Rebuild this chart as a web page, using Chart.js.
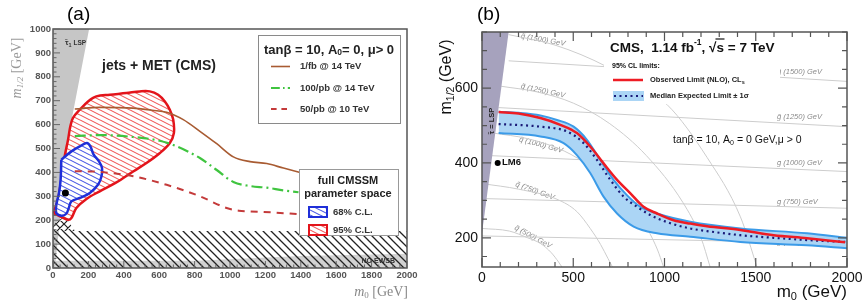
<!DOCTYPE html>
<html><head><meta charset="utf-8">
<script src="https://cdn.jsdelivr.net/npm/chart.js@4.4.1/dist/chart.umd.min.js"></script>
<style>
html,body{margin:0;padding:0;background:#fff;}
#wrap{position:relative;width:866px;height:305px;overflow:hidden;background:#fff;}
.pane{position:absolute;top:0;width:433px;height:305px;}
</style></head><body>
<div id="wrap">
<div class="pane" style="left:0"><canvas id="ca" width="433" height="305"></canvas></div>
<div class="pane" style="left:433px"><canvas id="cb" width="433" height="305"></canvas></div>
</div>
<script>
// ---------------- Panel (a) data ----------------
const aXTicks = [0,200,400,600,800,1000,1200,1400,1600,1800,2000];
const aYTicks = [0,100,200,300,400,500,600,700,800,900,1000];
const aLspX = [0, 10, 100, 204, 0];
const aLspY = [0, 0, 600, 1000, 1000];
const aNoEwsbX = [0, 2000, 2000, 1400, 800, 0];
const aNoEwsbY = [0, 0, 60, 50, 30, 30];
const aLepX = [0, 2000, 2000, 0];
const aLepY = [0, 0, 155, 155];
const aXhX = [0, 0, 65, 125];
const aXhY = [155, 180, 218, 155];
const cl95X = [4,85,104,132,189,264,358,453,528,604,660,683,679,660,632,594,547,491,415,321,245,198,151,113,98,85,66,47,28,9,4];
const cl95Y = [230,202,209,251,289,321,358,404,439,481,523,565,621,662,697,725,739,739,732,725,718,697,662,628,593,537,467,370,286,244,230];
const cl68X = [47,104,151,192,211,230,260,277,274,255,208,151,104,89,75,47,19,19,34,43,47];
const cl68Y = [453,488,509,523,509,474,446,418,384,349,314,293,279,251,227,219,230,265,314,370,453];
const fb1X = [123,264,453,560,642,736,830,925,1019,1113,1208,1302,1396];
const fb1Y = [665,672,669,660,652,621,572,520,465,445,437,418,400];
const pb100X = [123,264,453,585,679,830,925,1019,1113,1208,1300,1387];
const pb100Y = [552,556,548,535,515,460,410,360,343,336,325,317];
const pb50X = [123,264,453,642,830,981,1050,1113,1250,1387];
const pb50Y = [405,402,384,348,300,251,240,237,232,225];
const bestX = [70];
const bestY = [314];

// ---------------- Panel (b) data ----------------
const bXTicks = [0,500,1000,1500,2000];
const bYTicks = [200,400,600];
const obsX = [91,200,320,429,520,593,666,740,813,885,959,1050,1141,1233,1416,1598,1781,1990];
const obsY = [536,532,520,502,480,444,399,355,319,283,265,247,238,231,221,207,199,188];
const expX = [91,320,466,557,630,703,776,849,922,1032,1141,1233,1416,1598,1781,1990];
const expY = [504,497,484,453,408,355,310,283,261,239,225,218,207,200,194,189];
const bandUpX = [91,200,320,411,502,575,648,721,794,867,959,1141,1416,1781,2000];
const bandUpY = [537,534,527,515,497,462,408,355,314,283,265,243,225,212,200];
const bandLoX = [91,320,447,520,593,666,740,831,959,1141,1416,1781,2000];
const bandLoY = [480,471,453,421,373,310,265,230,212,203,189,180,172];
const lspBX = [0, 146, 0];
const lspBY = [212, 750, 750];
const lm6X = [86];
const lm6Y = [400];
const sq500X = [0,150,250,320,380,420,438];
const sq500Y = [225,218,200,185,160,135,122];
const sq750X = [0,200,411,520,593,650,690,715];
const sq750Y = [345,330,303,270,225,182,145,122];
const sq1000X = [60,250,450,600,750,880,960,995];
const sq1000Y = [480,465,432,388,325,245,170,122];
const sq1250X = [105,300,500,700,900,1100,1200,1250];
const sq1250Y = [605,590,560,505,420,295,200,122];
const sq1500X = [146,400,685,1014,1233,1416,1507];
const sq1500Y = [743,715,657,556,415,256,122];
const gl500X = [0,2000];   const gl500Y = [205,185];
const gl750X = [0,2000];   const gl750Y = [305,279];
const gl1000X = [30,2000]; const gl1000Y = [420,377];
const gl1250X = [90,2000]; const gl1250Y = [548,497];
const gl1500X = [146,2000];const gl1500Y = [673,618];

// ---------------- helpers ----------------
const SANS = "'Liberation Sans', Arial, sans-serif";
const SERIF = "'Liberation Serif', 'DejaVu Serif', serif";
function P(xs, ys){ return xs.map((x,i)=>({x:x, y:ys[i]})); }
function rich(ctx, x, y, parts, align){
  let w = 0;
  for (const p of parts){ ctx.font = p[1]; w += ctx.measureText(p[0]).width; }
  let cx = align==='center' ? x - w/2 : (align==='right' ? x - w : x);
  ctx.textAlign = 'left'; ctx.textBaseline = 'middle';
  for (const p of parts){ ctx.font = p[1]; ctx.fillText(p[0], cx, y + (p[2]||0)); cx += ctx.measureText(p[0]).width; }
  return w;
}
function makePattern(ctx, w, h, color, lw, bg, cross){
  const c = document.createElement('canvas'); c.width = w; c.height = h;
  const g = c.getContext('2d');
  if (bg){ g.fillStyle = bg; g.fillRect(0,0,w,h); }
  g.strokeStyle = color; g.lineWidth = lw; g.beginPath();
  for (let k=-1;k<=1;k++){
    g.moveTo(-w + k*w, -h); g.lineTo(2*w + k*w, 2*h);
    if (cross){ g.moveTo(k*w - w, 2*h); g.lineTo(k*w + 2*w, -h); }
  }
  g.stroke();
  return ctx.createPattern(c, 'repeat');
}
const plainNum = v => String(v);

// ---------------- Chart (a) ----------------
const ctxA = document.getElementById('ca').getContext('2d');
const patRed = makePattern(ctxA, 10, 5, '#f05a5a', 1.1, '#ffffff', false);
const patBlue = makePattern(ctxA, 10, 5, '#4a58e4', 1.1, '#ffffff', false);
const patBlack = makePattern(ctxA, 8, 8, '#222222', 1.3, null, false);
const patCross = makePattern(ctxA, 8, 8, '#222222', 1.2, '#ffffff', true);

const plugA = {
  id: 'plugA',
  afterDatasetsDraw(chart){
    const {ctx, chartArea: ca, scales: {x, y}} = chart;
    ctx.save();
    ctx.strokeStyle = '#555'; ctx.lineWidth = 1.5;
    ctx.strokeRect(ca.left, ca.top, ca.right - ca.left, ca.bottom - ca.top);
    ctx.lineWidth = 1; ctx.strokeStyle = '#666';
    ctx.beginPath();
    for (let v = 0; v <= 1000; v += 20){
      const py = y.getPixelForValue(v); const len = v % 100 === 0 ? 7 : 3.5;
      ctx.moveTo(ca.left, py); ctx.lineTo(ca.left + len, py);
    }
    for (let v = 0; v <= 2000; v += 40){
      const px = x.getPixelForValue(v); const len = v % 200 === 0 ? 7 : 3.5;
      ctx.moveTo(px, ca.bottom); ctx.lineTo(px, ca.bottom - len);
    }
    ctx.stroke();
    ctx.fillStyle = '#222';
    rich(ctx, 159, 66, [['jets + MET (CMS)', 'bold 14px ' + SANS]], 'center');
    ctx.fillStyle = '#333';
    rich(ctx, 65, 43, [['τ\u0303', 'bold 8px ' + SANS], ['1', 'bold 5.5px ' + SANS, 2], [' LSP', 'bold 6.5px ' + SANS]], 'left');
    rich(ctx, 395, 261, [['NO EWSB', 'bold 7px ' + SANS]], 'right');
    // legend 1
    ctx.fillStyle = '#fff'; ctx.fillRect(258, 35, 142, 88);
    ctx.strokeStyle = '#8a8a8a'; ctx.lineWidth = 1; ctx.strokeRect(258.5, 35.5, 142, 88);
    ctx.fillStyle = '#222';
    rich(ctx, 264, 50, [['tanβ = 10, A', 'bold 13px ' + SANS], ['0', 'bold 8.5px ' + SANS, 3], ['= 0, μ> 0', 'bold 13px ' + SANS]], 'left');
    const ds = chart.data.datasets;
    const items = [[6, '1/fb @ 14 TeV', 66.5], [7, '100/pb @ 14 TeV', 88], [8, '50/pb @ 10 TeV', 109]];
    for (const it of items){
      const d = ds[it[0]];
      ctx.strokeStyle = d.borderColor; ctx.lineWidth = d.borderWidth;
      ctx.setLineDash(d.borderDash ? d.borderDash.map(v=>v*0.8) : []);
      ctx.beginPath(); ctx.moveTo(271, it[2]); ctx.lineTo(290, it[2]); ctx.stroke();
      ctx.setLineDash([]);
      ctx.fillStyle = '#333';
      rich(ctx, 300, it[2], [[it[1], 'bold 9.5px ' + SANS]], 'left');
    }
    // legend 2
    ctx.fillStyle = '#fff'; ctx.fillRect(299, 169, 99, 66);
    ctx.strokeStyle = '#999'; ctx.lineWidth = 1; ctx.strokeRect(299.5, 169.5, 99, 66);
    ctx.fillStyle = '#222';
    rich(ctx, 348, 181, [['full CMSSM', 'bold 11px ' + SANS]], 'center');
    rich(ctx, 348, 194, [['parameter space', 'bold 11px ' + SANS]], 'center');
    ctx.fillStyle = patBlue; ctx.fillRect(309, 207, 18, 10);
    ctx.strokeStyle = ds[5].borderColor; ctx.lineWidth = 2; ctx.strokeRect(309, 207, 18, 10);
    ctx.fillStyle = patRed; ctx.fillRect(309, 225, 18, 10);
    ctx.strokeStyle = ds[4].borderColor; ctx.lineWidth = 2; ctx.strokeRect(309, 225, 18, 10);
    ctx.fillStyle = '#333';
    rich(ctx, 333, 212, [['68% C.L.', 'bold 9.5px ' + SANS]], 'left');
    rich(ctx, 333, 230, [['95% C.L.', 'bold 9.5px ' + SANS]], 'left');
    // axis titles
    ctx.fillStyle = '#999';
    ctx.save(); ctx.translate(17, 68); ctx.rotate(-Math.PI/2);
    rich(ctx, 0, 0, [['m', 'italic 14px ' + SERIF], ['1/2', 'italic 9px ' + SERIF, 4], [' [GeV]', '14px ' + SERIF]], 'center');
    ctx.restore();
    ctx.fillStyle = '#888';
    rich(ctx, 408, 292, [['m', 'italic 14px ' + SERIF], ['0', '9px ' + SERIF, 4], [' [GeV]', '14px ' + SERIF]], 'right');
    ctx.fillStyle = '#000';
    rich(ctx, 67, 15, [['(a)', '19px ' + SANS]], 'left');
    ctx.restore();
  }
};

new Chart(ctxA, {
  type: 'line',
  data: { datasets: [
    {data: P(aLspX, aLspY), fill: 'shape', backgroundColor: '#c6c6c6', borderColor: 'transparent', borderWidth: 0, order: 10},
    {data: P(aNoEwsbX, aNoEwsbY), fill: 'shape', backgroundColor: '#d2d2d2', borderColor: 'transparent', borderWidth: 0, order: 10},
    {data: P(aLepX, aLepY), fill: 'shape', backgroundColor: patBlack, borderColor: 'transparent', borderWidth: 0, order: 9},
    {data: P(aXhX, aXhY), fill: 'shape', backgroundColor: patCross, borderColor: 'transparent', borderWidth: 0, order: 9},
    {data: P(cl95X, cl95Y), fill: 'shape', backgroundColor: patRed, borderColor: '#e3141b', borderWidth: 2.5, tension: 0.35, order: 8},
    {data: P(cl68X, cl68Y), fill: 'shape', backgroundColor: patBlue, borderColor: '#1f2fd8', borderWidth: 2.5, tension: 0.35, order: 7},
    {data: P(fb1X, fb1Y), fill: false, borderColor: '#a85b32', borderWidth: 1.6, cubicInterpolationMode: 'monotone', order: 5},
    {data: P(pb100X, pb100Y), fill: false, borderColor: '#3fc43f', borderWidth: 2.2, borderDash: [11,4,2,4], cubicInterpolationMode: 'monotone', order: 5},
    {data: P(pb50X, pb50Y), fill: false, borderColor: '#c43a3a', borderWidth: 2, borderDash: [7,6], cubicInterpolationMode: 'monotone', order: 5},
    {data: P(bestX, bestY), showLine: false, pointRadius: 3.5, pointBackgroundColor: '#000', pointBorderWidth: 0, order: 1}
  ]},
  options: {
    responsive: false, animation: false, events: [],
    layout: {padding: {left: 0, right: 26, top: 29, bottom: 17}},
    plugins: {legend: {display: false}, tooltip: {enabled: false}},
    elements: {point: {radius: 0}},
    scales: {
      x: {type: 'linear', min: 0, max: 2000,
          grid: {display: false, drawTicks: false}, border: {display: false},
          ticks: {font: {family: SANS, size: 9.5, weight: 'bold'}, color: '#555', padding: 2, maxRotation: 0, autoSkip: false, callback: plainNum},
          afterBuildTicks: s => { s.ticks = aXTicks.map(v => ({value: v})); },
          afterFit: s => { s.height = 20; }},
      y: {type: 'linear', min: 0, max: 1000,
          grid: {display: false, drawTicks: false}, border: {display: false},
          ticks: {font: {family: SANS, size: 9.5, weight: 'bold'}, color: '#555', padding: 2, autoSkip: false, callback: plainNum},
          afterBuildTicks: s => { s.ticks = aYTicks.map(v => ({value: v})); },
          afterFit: s => { s.width = 53; }}
    }
  },
  plugins: [plugA]
});

// ---------------- Chart (b) ----------------
const ctxB = document.getElementById('cb').getContext('2d');
const gluLabels = [['1500', 71.7], ['1250', 116.7], ['1000', 163.3], ['750', 202.3], ['500', 242.3]];
const sqLabels = [['1500', 110, 40, 10], ['1250', 110, 91, 12], ['1000', 108, 145, 15], ['750', 102, 191, 20], ['500', 100, 237, 28]];

const plugB = {
  id: 'plugB',
  beforeDatasetsDraw(chart){
    const ctx = chart.ctx;
    ctx.save();
    ctx.fillStyle = '#8c8c8c';
    for (const g of gluLabels){
      rich(ctx, 344, g[1], [['g\u0303 (' + g[0] + ') GeV', 'italic 7.5px ' + SANS]], 'left');
    }
    for (const q of sqLabels){
      ctx.save(); ctx.translate(q[1], q[2]); ctx.rotate(q[3] * Math.PI / 180);
      rich(ctx, 0, 0, [['q\u0303 (' + q[0] + ') GeV', 'italic 7.5px ' + SANS]], 'center');
      ctx.restore();
    }
    ctx.restore();
  },
  afterDatasetsDraw(chart){
    const {ctx, chartArea: ca, scales: {x, y}} = chart;
    ctx.save();
    ctx.fillStyle = '#fff'; ctx.fillRect(171, 35, 176, 69);
    ctx.strokeStyle = '#555'; ctx.lineWidth = 1.5;
    ctx.strokeRect(ca.left, ca.top, ca.right - ca.left, ca.bottom - ca.top);
    ctx.lineWidth = 1.2; ctx.strokeStyle = '#555';
    ctx.beginPath();
    for (let v = 0; v <= 2000; v += 100){
      const px = x.getPixelForValue(v); const len = v % 500 === 0 ? 9 : 5;
      ctx.moveTo(px, ca.bottom); ctx.lineTo(px, ca.bottom - len);
      ctx.moveTo(px, ca.top); ctx.lineTo(px, ca.top + len);
    }
    for (let v = 150; v <= 750; v += 50){
      const py = y.getPixelForValue(v); const len = v % 200 === 0 ? 9 : 5;
      ctx.moveTo(ca.left, py); ctx.lineTo(ca.left + len, py);
      ctx.moveTo(ca.right, py); ctx.lineTo(ca.right - len, py);
    }
    ctx.stroke();
    ctx.fillStyle = '#111';
    const w1 = rich(ctx, 177, 48, [['CMS,  1.14 fb', 'bold 13.5px ' + SANS], ['-1', 'bold 8.5px ' + SANS, -5], [', ', 'bold 13.5px ' + SANS]], 'left');
    ctx.font = 'bold 13.5px ' + SANS;
    const sx = 177 + w1;
    const wr = ctx.measureText('√').width;
    rich(ctx, sx, 48, [['√', 'bold 13.5px ' + SANS]], 'left');
    const ws = rich(ctx, sx + wr, 48, [['s', 'bold 13.5px ' + SANS]], 'left');
    ctx.strokeStyle = '#111'; ctx.lineWidth = 1.2;
    ctx.beginPath(); ctx.moveTo(sx + wr - 1, 39); ctx.lineTo(sx + wr + ws + 0.5, 39); ctx.stroke();
    rich(ctx, sx + wr + ws, 48, [[' = 7 TeV', 'bold 13.5px ' + SANS]], 'left');
    rich(ctx, 179, 66, [['95% CL limits:', 'bold 7px ' + SANS]], 'left');
    const ds = chart.data.datasets;
    const dObs = ds[ds.length - 2], dExp = ds[ds.length - 3], dUp = ds[ds.length - 5];
    ctx.strokeStyle = dObs.borderColor; ctx.lineWidth = dObs.borderWidth;
    ctx.beginPath(); ctx.moveTo(180, 80); ctx.lineTo(210, 80); ctx.stroke();
    ctx.fillStyle = dUp.backgroundColor; ctx.fillRect(180, 91, 31, 10);
    ctx.strokeStyle = dExp.borderColor; ctx.lineWidth = dExp.borderWidth; ctx.setLineDash(dExp.borderDash);
    ctx.beginPath(); ctx.moveTo(181, 96); ctx.lineTo(210, 96); ctx.stroke(); ctx.setLineDash([]);
    ctx.fillStyle = '#222';
    rich(ctx, 217, 80, [['Observed Limit (NLO), CL', 'bold 7.5px ' + SANS], ['s', 'bold 5.5px ' + SANS, 2.5]], 'left');
    rich(ctx, 217, 96, [['Median Expected Limit ± 1σ', 'bold 7.5px ' + SANS]], 'left');
    ctx.fillStyle = '#111';
    rich(ctx, 240, 140, [['tanβ = 10, A', '10.5px ' + SANS], ['0', '7px ' + SANS, 3], [' = 0 GeV,μ > 0', '10.5px ' + SANS]], 'left');
    rich(ctx, 69, 162, [['LM6', 'bold 9.5px ' + SANS]], 'left');
    ctx.save(); ctx.translate(58.5, 121); ctx.rotate(-Math.PI/2);
    ctx.fillStyle = '#222';
    rich(ctx, 0, 0, [['τ\u0303 = LSP', 'bold 7.5px ' + SANS]], 'center');
    ctx.restore();
    ctx.fillStyle = '#111';
    ctx.save(); ctx.translate(14, 77); ctx.rotate(-Math.PI/2);
    rich(ctx, 0, 0, [['m', '16px ' + SANS], ['1/2', '10.5px ' + SANS, 4], [' (GeV)', '16px ' + SANS]], 'center');
    ctx.restore();
    rich(ctx, 414, 292, [['m', '17px ' + SANS], ['0', '11px ' + SANS, 5], [' (GeV)', '17px ' + SANS]], 'right');
    ctx.fillStyle = '#000';
    rich(ctx, 44, 15, [['(b)', '19px ' + SANS]], 'left');
    ctx.restore();
  }
};

const isoStyle = {fill: false, borderColor: '#cdcdcd', borderWidth: 1, cubicInterpolationMode: 'monotone', order: 10};
new Chart(ctxB, {
  type: 'line',
  data: { datasets: [
    Object.assign({data: P(sq500X, sq500Y)}, isoStyle),
    Object.assign({data: P(sq750X, sq750Y)}, isoStyle),
    Object.assign({data: P(sq1000X, sq1000Y)}, isoStyle),
    Object.assign({data: P(sq1250X, sq1250Y)}, isoStyle),
    Object.assign({data: P(sq1500X, sq1500Y)}, isoStyle),
    Object.assign({data: P(gl500X, gl500Y)}, isoStyle),
    Object.assign({data: P(gl750X, gl750Y)}, isoStyle),
    Object.assign({data: P(gl1000X, gl1000Y)}, isoStyle),
    Object.assign({data: P(gl1250X, gl1250Y)}, isoStyle),
    Object.assign({data: P(gl1500X, gl1500Y)}, isoStyle),
    {data: P(lspBX, lspBY), fill: 'shape', backgroundColor: '#a6a2bd', borderColor: 'transparent', borderWidth: 0, order: 9},
    {data: P(bandUpX, bandUpY), fill: '+1', backgroundColor: '#abd5f5', borderColor: '#3b9be8', borderWidth: 2, cubicInterpolationMode: 'monotone', order: 6},
    {data: P(bandLoX, bandLoY), fill: false, borderColor: '#3b9be8', borderWidth: 2, cubicInterpolationMode: 'monotone', order: 5},
    {data: P(expX, expY), fill: false, borderColor: '#1a1a78', borderWidth: 2.2, borderDash: [2, 3.5], cubicInterpolationMode: 'monotone', order: 3},
    {data: P(obsX, obsY), fill: false, borderColor: '#ee1c24', borderWidth: 2.5, cubicInterpolationMode: 'monotone', order: 2},
    {data: P(lm6X, lm6Y), showLine: false, pointRadius: 3, pointBackgroundColor: '#000', pointBorderWidth: 0, order: 1}
  ]},
  options: {
    responsive: false, animation: false, events: [],
    layout: {padding: {left: 0, right: 19, top: 32, bottom: 16}},
    plugins: {legend: {display: false}, tooltip: {enabled: false}},
    elements: {point: {radius: 0}},
    scales: {
      x: {type: 'linear', min: 0, max: 2000,
          grid: {display: false, drawTicks: false}, border: {display: false},
          ticks: {font: {family: SANS, size: 14}, color: '#111', padding: 3, maxRotation: 0, autoSkip: false, callback: plainNum},
          afterBuildTicks: s => { s.ticks = bXTicks.map(v => ({value: v})); },
          afterFit: s => { s.height = 22; }},
      y: {type: 'linear', min: 122, max: 750,
          grid: {display: false, drawTicks: false}, border: {display: false},
          ticks: {font: {family: SANS, size: 14}, color: '#111', padding: 4, autoSkip: false, callback: plainNum},
          afterBuildTicks: s => { s.ticks = bYTicks.map(v => ({value: v})); },
          afterFit: s => { s.width = 49; }}
    }
  },
  plugins: [plugB]
});
</script>
</body></html>
